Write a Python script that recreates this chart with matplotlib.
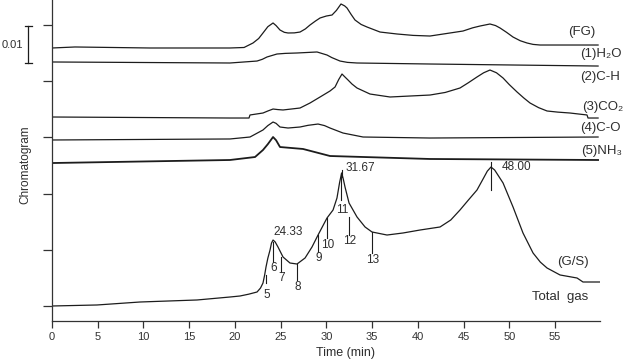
import numpy as np
import matplotlib
matplotlib.use("Agg")
import matplotlib.pyplot as plt

plt.rcParams['font.family'] = ['Liberation Sans', 'DejaVu Sans']

# ---------------- data (time in min, signal in arbitrary chromatogram units) ----------------
fg_t = [0, 2.52, 10.7, 19.46, 21.0, 21.98, 22.6, 23.07, 23.6, 24.17, 24.5, 24.93, 25.4, 25.81,
        26.5, 27.12, 27.7, 28.21, 28.8, 29.31, 30.0, 30.62, 31.1, 31.60, 32.0, 32.26, 32.7,
        33.13, 33.8, 34.45, 35.87, 37.73, 39.5, 41.33, 43.52, 44.94, 46.0, 46.80, 47.89, 48.5,
        48.99, 49.7, 50.41, 51.2, 51.94, 52.6, 53.36, 59.71]
fg_v = [4.591, 4.609, 4.591, 4.591, 4.600, 4.680, 4.760, 4.858, 4.970, 5.036, 4.990, 4.911, 4.870,
        4.858, 4.860, 4.875, 4.930, 5.000, 5.070, 5.125, 5.160, 5.178, 5.260, 5.374, 5.340, 5.302,
        5.190, 5.089, 5.010, 4.964, 4.875, 4.840, 4.815, 4.804, 4.858, 4.893, 4.950, 4.982, 5.018,
        4.990, 4.947, 4.870, 4.786, 4.720, 4.680, 4.655, 4.644, 4.644]

h2o_t = [0, 19.46, 22.42, 23.0, 23.51, 24.60, 25.5, 26.79, 28.98, 30.07, 30.6, 31.49, 32.3, 33.35,
         41.33, 59.71]
h2o_v = [4.342, 4.324, 4.359, 4.390, 4.431, 4.484, 4.495, 4.502, 4.520, 4.466, 4.420, 4.359, 4.335,
         4.324, 4.306, 4.270]

co2_t = [0, 19.46, 21.54, 21.65, 23.07, 23.6, 24.17, 24.7, 25.26, 27.12, 28.21, 29.31, 30.40,
         30.95, 31.35, 31.71, 32.0, 32.37, 32.8, 33.35, 34.77, 36.96, 41.33, 43.0, 44.61, 45.5,
         46.47, 47.2, 47.89, 48.6, 49.32, 50.0, 50.85, 51.6, 52.27, 53.2, 54.13, 55.3, 56.64,
         58.50, 58.61, 59.71]
co2_v = [3.363, 3.345, 3.345, 3.399, 3.434, 3.470, 3.505, 3.495, 3.488, 3.523, 3.612, 3.719, 3.826,
         3.897, 4.030, 4.128, 4.080, 4.021, 3.950, 3.879, 3.772, 3.719, 3.754, 3.800, 3.879, 3.970,
         4.075, 4.150, 4.199, 4.150, 4.057, 3.940, 3.808, 3.700, 3.612, 3.530, 3.470, 3.450, 3.434,
         3.399, 3.345, 3.345]

co_t = [0, 19.46, 21.65, 23.07, 23.6, 24.17, 24.5, 24.93, 25.81, 27.12, 28.0, 29.09, 29.8, 30.40,
        31.82, 34.01, 41.33, 59.71]
co_v = [2.954, 2.972, 3.007, 3.132, 3.210, 3.274, 3.250, 3.185, 3.167, 3.185, 3.215, 3.238, 3.210,
        3.167, 3.078, 3.007, 2.989, 3.007]

nh3_t = [0, 19.46, 22.20, 23.07, 23.6, 24.17, 24.5, 24.93, 27.45, 30.40, 41.33, 59.71]
nh3_v = [2.544, 2.598, 2.651, 2.776, 2.880, 3.007, 2.950, 2.829, 2.794, 2.669, 2.616, 2.598]

tot_t = [0, 4.92, 9.62, 15.86, 19.46, 20.56, 21.5, 22.42, 22.8, 23.07, 23.25, 23.40, 23.6, 23.84,
         24.0, 24.17, 24.4, 24.71, 25.26, 26.02, 26.79, 27.67, 28.43, 29.09, 30.07, 30.73, 31.16,
         31.45, 31.67, 31.85, 32.04, 32.48, 33.35, 34.23, 34.99, 36.63, 38.38, 40.24, 42.43, 43.6,
         44.61, 45.5, 46.47, 47.2, 47.6, 48.00, 48.4, 48.8, 49.32, 50.41, 51.50, 52.60, 53.4,
         54.13, 55.55, 57.41, 58.06, 59.92]
tot_v = [0.000, 0.018, 0.071, 0.107, 0.160, 0.178, 0.210, 0.249, 0.320, 0.409, 0.550, 0.694, 0.850,
         0.996, 1.120, 1.174, 1.140, 1.050, 0.872, 0.765, 0.747, 0.854, 1.050, 1.263, 1.566, 1.708,
         1.922, 2.200, 2.367, 2.260, 2.117, 1.833, 1.584, 1.406, 1.317, 1.263, 1.299, 1.352, 1.406,
         1.530, 1.708, 1.880, 2.064, 2.280, 2.400, 2.473, 2.420, 2.320, 2.189, 1.762, 1.299, 0.943,
         0.780, 0.676, 0.552, 0.498, 0.427, 0.427]

peak_ids = ['5', '6', '7', '8', '9', '10', '11', '12', '13']
peak_times = [23.40, 24.17, 25.04, 26.79, 29.09, 30.07, 31.60, 32.48, 34.99]
peak_rt_labels = ['24.33', '31.67', '48.00']
peak_rt_times = [24.33, 31.67, 48.00]

trace_labels = ['(FG)', '(1)H₂O', '(2)C-H', '(3)CO₂', '(4)C-O', '(5)NH₃']
x_ticks = [0, 5, 10, 15, 20, 25, 30, 35, 40, 45, 50, 55]

# ---------------- layout ----------------
W, H = 629, 359
fig = plt.figure(figsize=(W / 100, H / 100), dpi=100)
ax = fig.add_axes([52 / W, 1 - 321 / H, (600 - 52) / W, 321 / H])
ax.set_xlim(0, 59.92)
ax.set_ylim(-0.267, 5.445)

line_col = '#1c1c1c'
txt_col = '#2e2e2e'
lw = 0.9

ax.plot(fg_t, fg_v, color=line_col, lw=lw)
ax.plot(h2o_t, h2o_v, color=line_col, lw=lw)
ax.plot(co2_t, co2_v, color=line_col, lw=lw)
ax.plot(co_t, co_v, color=line_col, lw=lw)
ax.plot(nh3_t, nh3_v, color=line_col, lw=1.3)
ax.plot(tot_t, tot_v, color=line_col, lw=lw)

# peak marker lines and numbers (top, bottom of line, label y)
marks = [(0.552, 0.409, 0.196), (1.139, 0.783, 0.676), (0.872, 0.605, 0.498),
         (0.747, 0.463, 0.338), (1.263, 0.961, 0.854), (1.566, 1.210, 1.085),
         (2.367, 1.886, 1.708), (1.584, 1.263, 1.157), (1.317, 0.943, 0.819)]
for pid, pt, (top, bot, ly) in zip(peak_ids, peak_times, marks):
    ax.plot([pt, pt], [top, bot], color=line_col, lw=0.8)
    ax.text(pt + 0.1, ly, pid, ha='center', va='center', fontsize=8.5, color=txt_col)

# retention time labels
rt_pos = [(24.17, 1.317), (32.15, 2.456), (49.21, 2.473)]
for lab, (tx, ty) in zip(peak_rt_labels, rt_pos):
    ax.text(tx, ty, lab, ha='left', va='center', fontsize=8.5, color=txt_col)
ax.plot([peak_rt_times[2]] * 2, [2.562, 2.064], color=line_col, lw=0.8)
ax.plot([peak_rt_times[1]] * 2, [2.42, 2.30], color=line_col, lw=0.8)

# trace labels on the right
lab_pos = [(56.43, 4.875), (57.74, 4.484), (57.74, 4.075), (58.0, 3.541), (57.74, 3.167), (57.85, 2.758)]
for lab, (tx, ty) in zip(trace_labels, lab_pos):
    ax.text(tx, ty, lab, ha='left', va='center', fontsize=9.5, color=txt_col, clip_on=False)
ax.text(55.22, 0.783, '(G/S)', ha='left', va='center', fontsize=9.5, color=txt_col)
ax.text(52.49, 0.160, 'Total  gas', ha='left', va='center', fontsize=9.5, color=txt_col)

# axes styling
for s in ['top', 'right']:
    ax.spines[s].set_visible(False)
for s in ['left', 'bottom']:
    ax.spines[s].set_color('#333333')
    ax.spines[s].set_linewidth(0.9)
ax.set_xticks(x_ticks)
ax.set_xticklabels([str(v) for v in x_ticks], fontsize=8, color=txt_col)
ax.set_yticks([0, 1, 2, 3, 4, 5])
ax.set_yticklabels([])
ax.tick_params(axis='x', direction='out', length=5, width=0.9, pad=3, colors='#333333')
ax.tick_params(axis='y', direction='out', length=6.5, width=0.9, colors='#333333')

fig.text(345 / W, 1 - 353 / H, 'Time (min)', ha='center', va='center', fontsize=9, color=txt_col)
fig.text(25 / W, 1 - 165 / H, 'Chromatogram', ha='center', va='center', rotation=90,
         fontsize=8.5, color=txt_col)

# 0.01 scale bar
fig.add_artist(plt.Line2D([28 / W, 28 / W], [1 - 26 / H, 1 - 63 / H], color=line_col, lw=0.9))
fig.add_artist(plt.Line2D([24.5 / W, 31.5 / W], [1 - 26 / H, 1 - 26 / H], color=line_col, lw=0.9))
fig.add_artist(plt.Line2D([24.5 / W, 31.5 / W], [1 - 63 / H, 1 - 63 / H], color=line_col, lw=0.9))
fig.text(23 / W, 1 - 45 / H, '0.01', ha='right', va='center', fontsize=8, color=txt_col)

fig.savefig('out.png', dpi=100)
